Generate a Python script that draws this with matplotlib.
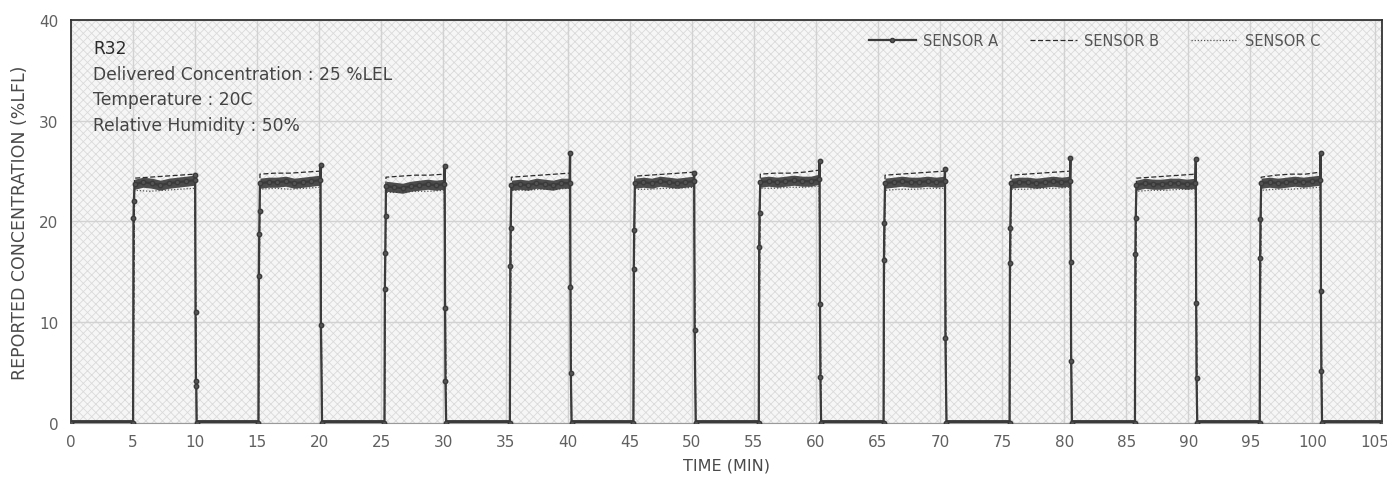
"""Recreate the R32 sensor step-response chart."""

import matplotlib.pyplot as plt
import numpy as np
from matplotlib.lines import Line2D
from matplotlib.patches import Rectangle

plt.rcParams["font.family"] = ["DejaVu Sans"]
plt.rcParams["hatch.linewidth"] = 0.6

# gas on / off times (min) for the ten exposures
RISE_T = [5.0, 15.1, 25.25, 35.35, 45.3, 55.4, 65.45, 75.6, 85.7, 95.75]
FALL_T = [10.0, 20.1, 30.1, 40.2, 50.2, 60.3, 70.4, 80.5, 90.6, 100.65]

# sensor A readings while on the plateau
A_LEVEL = [
    [23.7, 23.9, 23.8, 23.6, 23.8, 23.9, 24.0, 24.1],
    [23.8, 23.9, 23.9, 24.0, 23.8, 23.9, 24.0, 24.1],
    [23.5, 23.4, 23.3, 23.5, 23.6, 23.7, 23.6, 23.7],
    [23.6, 23.7, 23.6, 23.8, 23.7, 23.6, 23.8, 23.8],
    [23.8, 23.9, 23.8, 24.0, 23.9, 23.8, 23.9, 24.0],
    [23.9, 24.0, 23.9, 24.0, 24.1, 24.0, 24.0, 24.2],
    [23.8, 23.9, 24.0, 23.9, 23.9, 24.0, 23.9, 24.0],
    [23.8, 23.9, 23.9, 23.8, 23.9, 24.0, 23.9, 24.0],
    [23.6, 23.8, 23.7, 23.7, 23.8, 23.8, 23.7, 23.8],
    [23.8, 23.9, 23.8, 23.9, 24.0, 23.9, 24.0, 24.1],
]
A_RISE = [
    [20.3, 22.0], [14.6, 18.8, 21.0], [13.3, 16.9, 20.5], [15.6, 19.4],
    [15.3, 19.2], [17.5, 20.8], [16.2, 19.9], [15.9, 19.4], [16.8, 20.3],
    [16.4, 20.2],
]
A_SPIKE = [24.6, 25.6, 25.5, 26.8, 24.8, 26.0, 25.2, 26.3, 26.2, 26.8]
A_FALL = [
    [11.0, 4.2, 3.7], [9.7], [11.4, 4.2], [13.5, 5.0], [9.2], [11.8, 4.6],
    [8.4], [16.0, 6.2], [11.9, 4.5], [13.1, 5.2],
]

# sensors B and C plateau readings
B_LEVEL = [
    [24.3, 24.4, 24.5, 24.6, 24.7],
    [24.7, 24.8, 24.8, 24.9, 25.0],
    [24.4, 24.5, 24.6, 24.6, 24.7],
    [24.4, 24.5, 24.6, 24.7, 24.8],
    [24.5, 24.6, 24.7, 24.8, 24.9],
    [24.7, 24.8, 24.8, 24.9, 25.1],
    [24.6, 24.7, 24.8, 24.9, 25.0],
    [24.6, 24.7, 24.8, 24.9, 25.0],
    [24.3, 24.4, 24.5, 24.6, 24.7],
    [24.4, 24.6, 24.7, 24.7, 24.9],
]
C_LEVEL = [
    [23.1, 23.0, 23.1, 23.2, 23.3],
    [23.2, 23.3, 23.2, 23.3, 23.4],
    [22.9, 22.9, 23.0, 23.0, 23.1],
    [23.1, 23.1, 23.2, 23.2, 23.3],
    [23.2, 23.2, 23.3, 23.3, 23.4],
    [23.3, 23.3, 23.4, 23.4, 23.5],
    [23.1, 23.2, 23.2, 23.3, 23.3],
    [23.2, 23.2, 23.3, 23.3, 23.4],
    [23.0, 23.1, 23.1, 23.2, 23.2],
    [23.1, 23.2, 23.2, 23.3, 23.4],
]

X_MAX = 105.6
Y_MAX = 40
ANNOTATION = [
    "R32",
    "Delivered Concentration : 25 %LEL",
    "Temperature : 20C",
    "Relative Humidity : 50%",
]

DARK = "#3a3a3a"
TEXT = "#4a4a4a"


def plateau_times(rise, fall, count):
    return np.linspace(rise + 0.12, fall - 0.04, count)


def sensor_a_trace():
    times, values = [0.0], [0.0]
    for k, (rise, fall) in enumerate(zip(RISE_T, FALL_T)):
        times += [rise] + [rise + 0.03 * (i + 1) for i in range(len(A_RISE[k]))]
        values += [0.0] + A_RISE[k]
        times += list(plateau_times(rise, fall, len(A_LEVEL[k])))
        values += A_LEVEL[k]
        times += [fall] + [fall + 0.03 * (i + 1) for i in range(len(A_FALL[k]))]
        values += [A_SPIKE[k]] + A_FALL[k]
        times.append(fall + 0.12)
        values.append(0.0)
    times.append(X_MAX)
    values.append(0.0)
    return times, values


def other_trace(levels):
    times, values = [0.0], [0.0]
    for k, (rise, fall) in enumerate(zip(RISE_T, FALL_T)):
        times += [rise] + list(plateau_times(rise, fall, len(levels[k])))
        values += [0.0] + levels[k]
        times += [fall + 0.05, fall + 0.12]
        values += [levels[k][-1] * 0.5, 0.0]
    times.append(X_MAX)
    values.append(0.0)
    return times, values


fig = plt.figure(figsize=(13.87, 4.89), dpi=100)
ax = fig.add_axes([0.0512, 0.133, 0.9452, 0.824])
ax.set_xlim(0, X_MAX)
ax.set_ylim(0, Y_MAX)

ax.add_patch(Rectangle((0, 0), 1, 1, transform=ax.transAxes, facecolor="#f6f6f6",
                       edgecolor="#dadada", hatch="xxxx", linewidth=0, zorder=0))
ax.set_xticks(np.arange(0, 106, 5))
ax.set_yticks(np.arange(0, 41, 10))
ax.grid(True, color="#d2d2d2", linewidth=1.0, zorder=1)
ax.set_axisbelow(True)

# thick baseline between exposures
offs_start = [0.0] + [f + 0.1 for f in FALL_T]
offs_end = RISE_T + [X_MAX]
ax.hlines([0.05] * len(offs_start), offs_start, offs_end, color=DARK, linewidth=3.5, zorder=3)

bt, bv = other_trace(B_LEVEL)
ax.plot(bt, bv, color="#2c2c2c", linewidth=0.9, linestyle=(0, (4, 2)), zorder=4)
ct, cv = other_trace(C_LEVEL)
ax.plot(ct, cv, color="#555555", linewidth=0.9, linestyle=(0, (1, 1.5)), zorder=4)

# noisy band of sensor A
for k, (rise, fall) in enumerate(zip(RISE_T, FALL_T)):
    pt = plateau_times(rise, fall, len(A_LEVEL[k]))
    level = np.array(A_LEVEL[k])
    ax.fill_between(pt, level - 0.5, level + 0.5, color=DARK, alpha=0.9, linewidth=0, zorder=5)

at, av = sensor_a_trace()
ax.plot(at, av, color=DARK, linewidth=1.6, marker="o", markersize=3.2,
        markerfacecolor="#555555", markeredgecolor=DARK, zorder=6)

for side in ["top", "left", "right"]:
    ax.spines[side].set_color("#333333")
    ax.spines[side].set_linewidth(1.3)
ax.spines["bottom"].set_color("#9a9a9a")
ax.spines["bottom"].set_linewidth(0.8)
ax.tick_params(length=0, labelsize=11, labelcolor="#606060", pad=8)
ax.tick_params(axis="y", pad=9)

ax.set_xlabel("TIME (MIN)", fontsize=11.5, color=TEXT, labelpad=6)
ax.set_ylabel("REPORTED CONCENTRATION (%LFL)", fontsize=12.5, color=TEXT, labelpad=7)

for i, line in enumerate(ANNOTATION):
    ax.text(0.0168, 0.93 - i * 0.0635, line, transform=ax.transAxes, fontsize=12.3,
            color="#2a2a2a" if i == 0 else "#444444", va="center", ha="left")

handles = [
    Line2D([], [], color=DARK, linewidth=1.6, marker="o", markersize=3, markevery=[1],
           markerfacecolor="#555555"),
    Line2D([], [], color="#2c2c2c", linewidth=0.9, linestyle=(0, (4, 2))),
    Line2D([], [], color="#555555", linewidth=0.9, linestyle=(0, (1, 1.5))),
]
leg = ax.legend(handles, ["SENSOR A", "SENSOR B", "SENSOR C"], loc="upper right",
                bbox_to_anchor=(0.963, 1.0), ncol=3, frameon=False, fontsize=10.5,
                handlelength=3.2, columnspacing=2.2, handletextpad=0.5)
for txt in leg.get_texts():
    txt.set_color("#555555")

fig.savefig("out.png", dpi=100)
